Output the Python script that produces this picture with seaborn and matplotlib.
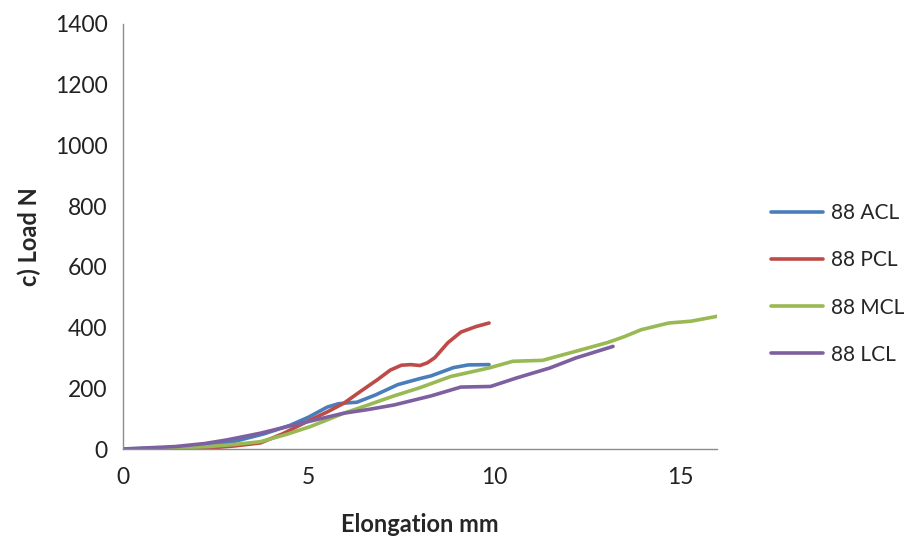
import matplotlib
matplotlib.use("Agg")
import matplotlib.pyplot as plt
import seaborn as sns
import pandas as pd

# Load-elongation curves for the four ligaments of specimen 88
acl_x = [0, 1, 2, 3, 3.8, 4.5, 5.0, 5.5, 5.8, 6.05, 6.3, 6.8, 7.4, 8.0, 8.3, 8.9, 9.3, 9.86]
acl_y = [0, 3, 10, 25, 50, 78, 105, 138, 149, 152, 154, 178, 212, 232, 241, 268, 277, 278]

pcl_x = [0, 1, 2, 2.5, 3, 3.7, 4.3, 5.05, 5.5, 5.95, 6.4, 6.85, 7.2, 7.5, 7.75, 8.0, 8.2, 8.4, 8.75, 9.1, 9.5, 9.86]
pcl_y = [0, 0, 2, 5, 10, 20, 50, 96, 122, 151, 190, 228, 260, 276, 278, 275, 284, 301, 350, 385, 403, 415]

mcl_x = [0, 1, 2.3, 3, 3.7, 4.4, 5.05, 5.95, 6.6, 7.3, 8.0, 8.83, 9.86, 10.5, 11.3, 12.2, 13.06, 13.5, 13.96, 14.7, 15.3, 16.0]
mcl_y = [0, 1, 8, 15, 24, 48, 74, 118, 145, 175, 202, 239, 267, 289, 292, 322, 351, 370, 393, 415, 421, 437]

lcl_x = [0, 1.4, 2.2, 2.8, 3.7, 4.6, 5.95, 6.6, 7.3, 8.3, 9.1, 9.9, 10.6, 11.5, 12.2, 13.2]
lcl_y = [0, 8, 18, 30, 52, 79, 118, 130, 145, 175, 204, 206, 234, 267, 300, 338]

series_names = ["88 ACL", "88 PCL", "88 MCL", "88 LCL"]
colors = ["#4A7EBB", "#BE4B48", "#98B954", "#7D60A0"]

x_ticks = [0, 5, 10, 15]
y_ticks = [0, 200, 400, 600, 800, 1000, 1200, 1400]

frames = []
for name, xs, ys in zip(series_names, [acl_x, pcl_x, mcl_x, lcl_x], [acl_y, pcl_y, mcl_y, lcl_y]):
    frames.append(pd.DataFrame({"Elongation": xs, "Load": ys, "Ligament": name}))
df = pd.concat(frames, ignore_index=True)

sns.set_style("white")
plt.rcParams["font.family"] = ["Lato", "DejaVu Sans"]

fig = plt.figure(figsize=(9.14, 5.41), dpi=100)
ax = fig.add_axes([123 / 914, 1 - 449 / 541, (717 - 123) / 914, (449 - 24) / 541])

sns.lineplot(data=df, x="Elongation", y="Load", hue="Ligament", hue_order=series_names,
             palette=colors, sort=False, estimator=None, linewidth=2.6, ax=ax)

ax.set_xlim(0, 16)
ax.set_ylim(0, 1400)
ax.set_xticks(x_ticks)
ax.set_yticks(y_ticks)
ax.tick_params(axis="both", labelsize=16.5, colors="#222222", length=5, width=1,
               direction="out", pad=6)
ax.tick_params(axis="both", color="#8c8c8c")
ax.tick_params(axis="x", pad=8)
for side in ["top", "right"]:
    ax.spines[side].set_visible(False)
for side in ["left", "bottom"]:
    ax.spines[side].set_color("#8c8c8c")
    ax.spines[side].set_linewidth(1)

ax.set_xlabel("Elongation mm", fontsize=17, fontweight="bold", labelpad=18)
ax.set_ylabel("c) Load N", fontsize=17, fontweight="bold", labelpad=10)

handles, labels = ax.get_legend_handles_labels()
leg = ax.legend(handles, labels, loc="center left", bbox_to_anchor=(752 / 914, 1 - 284 / 541),
                bbox_transform=fig.transFigure, frameon=False, fontsize=15,
                handlelength=2.5, handletextpad=0.4, labelspacing=1.3)
for line in leg.get_lines():
    line.set_linewidth(2.6)

fig.savefig("out.png", dpi=100)
